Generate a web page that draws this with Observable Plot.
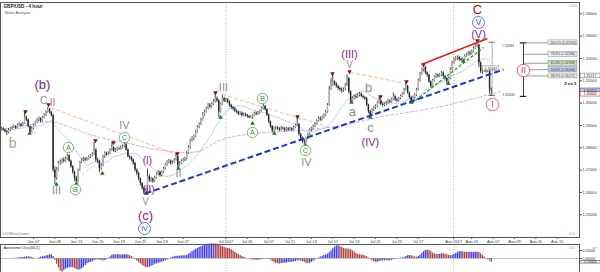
<!DOCTYPE html>
<html><head><meta charset="utf-8">
<script src="https://cdn.jsdelivr.net/npm/d3@7"></script>
<script src="https://cdn.jsdelivr.net/npm/@observablehq/plot@0.6"></script>
<style>
body{margin:0;background:#fff;}
#wrap{position:relative;width:600px;height:272px;overflow:hidden;background:#fff;}
#wrap svg{position:absolute;left:0;}
</style></head><body><div id="wrap"></div>
<script>
// ---- time axis: trading-day index (0 = Jun 07 2017), 6 four-hour bars per day ----
const firstDay = -3;          // Jun 02
const barsPerDay = 6;
const xDomain = [-3.087, 51.08];
const yDomain = [1.23983, 1.34506];
const tickDays  = [0,2,4,6,8,10,12,14,18,20,22,24,26,28,30,32,34,36,39.3,41,43,45,47,49];
const tickNames = ["Jun 07","Jun 09","Jun 13","Jun 15","Jun 19","Jun 21","Jun 23","Jun 27","Jul 2017","Jul 05","Jul 07","Jul 11","Jul 13","Jul 17","Jul 19","Jul 21","Jul 25","Jul 27","Aug 2017","Aug 03","Aug 07","Aug 09","Aug 11","Aug 15"];
const monthLines = [18, 39.3];
const priceTicks = [1.25,1.26,1.27,1.28,1.29,1.30,1.31,1.32,1.33,1.34];
const oscTicks = [0, 0.01];

// ---- GBP/USD 4h candles, in pips: 2885 = 1.2885 ----
const firstOpen = 2880;
const closePips = [
2885,2880,2872,2868,2878,2884, 2890,2895,2888,2900,2905,2898, 2908,2935,2925,2895,2870,2885,
2900,2915,2922,2930,2918,2935, 2945,2960,2972,2960,2945,2700, 2665,2700,2730,2735,2745,2740,
2750,2765,2740,2715,2690,2665, 2650,2700,2735,2745,2750,2745, 2750,2760,2765,2770,2790,2745,
2740,2705,2720,2760,2775,2770, 2775,2790,2800,2785,2790,2795, 2795,2800,2805,2815,2790,2760,
2755,2745,2730,2700,2685,2660, 2640,2620,2600,2610,2670,2655, 2660,2650,2665,2680,2690,2675,
2690,2705,2725,2735,2740,2730, 2735,2745,2760,2720,2730,2740, 2745,2750,2775,2800,2830,2840,
2850,2870,2890,2905,2925,2950, 2960,2975,2990,2985,2995,3005, 3020,3010,2960,2995,3020,3010,
3015,3005,2990,2980,2975,2965, 2960,2950,2955,2945,2950,2945, 2940,2935,2938,2945,2955,2950,
2955,2965,2975,2985,2970,2945, 2915,2895,2875,2885,2890,2885, 2880,2888,2885,2878,2885,2880,
2885,2880,2890,2900,2905,2860, 2840,2830,2825,2840,2860,2880, 2885,2895,2905,2920,2930,2925,
2935,2945,2960,2990,3060,3080, 3095,3085,3075,3065,3060,3055, 3060,3080,3110,3050,3010,3020,
3030,3025,3035,3040,3030,3025, 3020,2990,2960,2945,2970,2980, 2985,3000,3010,2995,2990,2995,
3000,3010,3005,3015,3030,3015, 3010,3020,3030,3040,3060,3075, 3045,3025,3010,3025,3035,3060,
3100,3130,3150,3160,3135,3125, 3095,3075,3100,3115,3125,3120, 3125,3135,3120,3110,3095,3110,
3150,3180,3195,3200,3205,3195, 3190,3195,3210,3215,3225,3220, 3230,3245,3255,3260,3180,3140,
3145,3150,3140,3145,3060,3055];
const highPips = [
2892,2890,2884,2878,2886,2890, 2896,2902,2898,2906,2912,2908, 2914,2960,2942,2928,2898,2892,
2906,2920,2930,2938,2934,2940, 2952,2966,2980,2975,2962,2950, 2715,2712,2738,2745,2752,2755,
2758,2772,2768,2745,2720,2695, 2672,2705,2740,2752,2758,2756, 2756,2765,2770,2778,2825,2795,
2752,2745,2728,2766,2782,2780, 2782,2796,2822,2805,2796,2800, 2802,2808,2812,2832,2820,2795,
2765,2760,2750,2735,2705,2690, 2665,2645,2625,2618,2705,2680, 2668,2665,2672,2688,2698,2695,
2696,2712,2730,2742,2748,2745, 2742,2752,2775,2762,2738,2746, 2752,2758,2782,2808,2838,2850,
2858,2878,2898,2912,2932,2958, 2968,2982,2998,2998,3002,3015, 3045,3028,3015,3000,3035,3025,
3022,3020,3010,2995,2985,2980, 2970,2965,2962,2960,2956,2955, 2950,2945,2944,2950,2960,2960,
2962,2970,2982,2995,2990,2975, 2950,2920,2900,2892,2896,2895, 2890,2895,2894,2890,2892,2890,
2892,2890,2896,2906,2942,2908, 2865,2848,2838,2846,2866,2886, 2892,2902,2912,2926,2938,2938,
2942,2952,2968,2998,3075,3110, 3125,3100,3092,3080,3072,3068, 3068,3088,3126,3115,3055,3028,
3036,3038,3042,3048,3045,3036, 3030,3025,2995,2968,2976,2986, 2992,3006,3028,3015,3002,3000,
3008,3016,3015,3022,3045,3035, 3022,3026,3036,3046,3066,3090, 3080,3050,3030,3032,3042,3066,
3108,3138,3158,3170,3165,3140, 3130,3100,3106,3122,3132,3130, 3132,3142,3140,3125,3115,3116,
3158,3188,3202,3208,3212,3210, 3202,3202,3216,3222,3232,3232, 3238,3252,3262,3268,3262,3185,
3152,3158,3155,3152,3150,3068];
const lowPips = [
2876,2874,2866,2855,2862,2873, 2880,2886,2882,2885,2896,2893, 2895,2905,2918,2890,2862,2866,
2880,2896,2910,2916,2912,2914, 2930,2940,2955,2952,2938,2690, 2636,2655,2695,2722,2728,2732,
2735,2745,2735,2708,2682,2650, 2640,2645,2695,2728,2738,2738, 2740,2745,2752,2760,2765,2735,
2730,2688,2698,2715,2752,2762, 2765,2770,2785,2778,2778,2784, 2788,2790,2795,2800,2785,2755,
2745,2738,2722,2692,2675,2652, 2630,2610,2589,2592,2605,2645, 2645,2640,2645,2660,2675,2668,
2670,2685,2700,2718,2728,2722, 2725,2730,2740,2708,2715,2725, 2735,2738,2745,2770,2795,2825,
2832,2845,2865,2885,2900,2920, 2942,2955,2970,2975,2978,2990, 3000,3002,2935,2955,2990,3002,
3002,2998,2982,2972,2965,2958, 2952,2944,2945,2938,2940,2938, 2932,2930,2930,2928,2940,2944,
2945,2950,2960,2970,2965,2940, 2908,2888,2866,2870,2878,2878, 2872,2875,2878,2870,2872,2874,
2875,2872,2876,2885,2895,2852, 2832,2820,2812,2818,2835,2855, 2872,2880,2890,2900,2915,2918,
2920,2930,2940,2955,2985,3055, 3075,3078,3068,3058,3052,3045, 3048,3055,3075,3040,3000,3005,
3015,3018,3020,3028,3025,3018, 3012,2985,2952,2935,2940,2962, 2972,2980,2995,2988,2982,2984,
2988,2995,2998,3000,3010,3008, 3002,3005,3015,3025,3035,3055, 3040,3018,3002,3005,3020,3030,
3055,3095,3125,3140,3128,3115, 3088,3068,3070,3095,3110,3112, 3115,3120,3112,3102,3085,3090,
3105,3145,3175,3188,3192,3188, 3185,3188,3190,3205,3210,3212, 3215,3225,3240,3248,3160,3132,
3130,3138,3135,3136,3040,3030];

// slow moving average: [day, price]
const slowMA = [[-3.09,1.28819],[-0.28,1.29042],[1.59,1.29177],[3.46,1.28909],[6.27,1.28460],[8.61,1.28236],
[10.94,1.27968],[14.22,1.27789],[16.09,1.27968],[17.96,1.28416],[21.70,1.28684],[24.98,1.28774],[28.72,1.28998],
[31.81,1.29311],[33.12,1.29445],[37.14,1.29759],[40.88,1.30162],[43.69,1.30516]];

// fractal markers [day, price]
const fractalUp = [[-0.75,1.29625],[1.40,1.29938],[5.80,1.28326],[7.48,1.28236],[8.51,1.28326],[13.47,1.27744],
[17.03,1.30476],[24.70,1.29401],[27.97,1.31326],[29.56,1.31416],[32.46,1.30296],[34.89,1.30968],[36.48,1.31730],[41.53,1.32804]];
const fractalDown = [[-0.37,1.28640],[2.15,1.26356],[4.02,1.26400],[6.45,1.26848],[10.57,1.25953],[13.56,1.27072],
[17.49,1.29356],[20.49,1.29087],[22.54,1.28640],[25.44,1.28102],[29.75,1.30028],[31.52,1.29356],[35.36,1.30028],
[38.82,1.30874],[40.22,1.31864]];

// drawn lines [day1, price1, day2, price2]
const trendBlue  = [[10.48,1.25953,43.97,1.31506]];
const trendRed   = [[36.30,1.31730,42.47,1.32894]];
const trendGreen = [[35.36,1.29983,42.10,1.32491]];
const guideOrange = [[1.59,1.29804,13.38,1.27699],[17.68,1.30386,27.78,1.28909],[29.65,1.31371,34.89,1.30874]];
const guidePeach  = [[4.12,1.26641,8.61,1.28346]];

// wave labels
const purpleLabels = [
 {t:0.84,p:1.30834,s:"(b)",z:13},{t:10.66,p:1.27430,s:"(I)",z:10},{t:10.76,p:1.26132,s:"(II)",z:10},
 {t:10.48,p:1.24967,s:"(c)",z:13},{t:29.56,p:1.32177,s:"(III)",z:11},{t:31.52,p:1.28236,s:"(IV)",z:11},
 {t:41.63,p:1.33073,s:"(V)",z:11}];
const grayLabels = [
 {t:0.94,p:1.30117,s:"C",z:10},{t:1.78,p:1.30028,s:"II",z:10},{t:2.15,p:1.26087,s:"III",z:11},
 {t:8.51,p:1.28998,s:"IV",z:11},{t:10.48,p:1.25594,s:"V",z:10},{t:13.56,p:1.26848,s:"II",z:11},
 {t:17.77,p:1.30700,s:"III",z:11},{t:25.54,p:1.27341,s:"IV",z:11},{t:29.56,p:1.31730,s:"V",z:10},
 {t:29.84,p:1.29625,s:"a",z:13},{t:31.34,p:1.30700,s:"b",z:13},{t:31.52,p:1.28909,s:"c",z:13}];
const tanLabels = [{t:-1.96,p:1.28192,s:"b",z:14}];
const redLabels = [{t:41.53,p:1.34193,s:"C",z:13}];
const greenCircles = [
 {t:3.27,p:1.28013,s:"A"},{t:3.93,p:1.26132,s:"B"},{t:8.51,p:1.28460,s:"C"},
 {t:20.49,p:1.28684,s:"A"},{t:21.42,p:1.30207,s:"B"},{t:25.44,p:1.27878,s:"C"}];
const blueCircles = [{t:10.38,p:1.24385,s:"IV",z:7},{t:41.63,p:1.33610,s:"V",z:9}];
const redCircles  = [{t:42.94,p:1.29938,s:"I",z:9},{t:45.84,p:1.31461,s:"II",z:9}];

// Fibonacci retracement tool
const fibDay = 45.84, fibLineEnd = 48.18, fibBoxEnd = 50.89;
const fibHigh = 1.32700, fibLow = 1.30300;
const fibLevels = [
 {p:1.32700,s:"100.0% (1.32700)",bg:"#eeeeee"},{p:1.32186,s:"78.6% (1.32186)",bg:"#eeeeee"},
 {p:1.31783,s:"61.8% (1.31783)",bg:"#c9e8b4"},{p:1.31500,s:"50.0% (1.31500)",bg:"#bcc8ee"},
 {p:1.31217,s:"38.2% (1.31217)",bg:"#eeeeee"}];
const fibNote = [{t:50.23,p:1.30874,s:"2 vs 1"}];
// measuring line of the last drop
const dropDay = 42.91, dropHigh = 1.32728, dropLow = 1.30341;
const dropNotes = [{t:43.80,p:1.32582,s:"1.32683"},{t:43.87,p:1.30386,s:"1.30340"}];
const dropBox = [{t:42.80,p:1.31550,s:"1.31642"}];
// price boxes on the right axis
const axisBoxes = [{p:1.31217,s:"1.31217",bg:"#ffffff",bd:"#777"},{p:1.30550,s:"1.30550",bg:"#b8c2f0",bd:"#4455cc"},{p:1.30400,s:"1.30400",bg:"#ffffff",bd:"#dd3333"}];

// ---- build tables ----
const candles = closePips.map((c, i) => ({
  t: firstDay + i / barsPerDay,
  o: 1 + (i ? closePips[i - 1] : firstOpen) / 1e4,
  c: 1 + c / 1e4,
  h: 1 + highPips[i] / 1e4,
  l: 1 + lowPips[i] / 1e4
}));
const med = candles.map(d => (d.h + d.l) / 2);
const sma = (k, i) => d3.mean(med.slice(Math.max(0, i - k + 1), i + 1));
const ao = candles.map((d, i) => ({t: d.t, v: sma(5, i) - sma(34, i)}));
ao.forEach((d, i) => d.up = i === 0 ? true : d.v >= ao[i - 1].v);
const aoLast = ao[ao.length - 1];

const seg = a => a.map(([t1,p1,t2,p2]) => ({t1,p1,t2,p2}));
const tickName = new Map(tickDays.map((d, i) => [d, tickNames[i]]));
const boxX1 = xDomain[1], boxX2 = 53.05, boxMid = (boxX1 + boxX2) / 2;
const font = "'Liberation Sans', Arial, sans-serif";

const main = Plot.plot({
  width: 600, height: 244,
  marginTop: 2, marginBottom: 7, marginLeft: 0, marginRight: 21,
  style: {fontFamily: font, background: "#fff", overflow: "visible"},
  x: {type: "linear", domain: xDomain},
  y: {type: "linear", domain: yDomain},
  color: {type: "identity"},
  marks: [
    Plot.ruleX(monthLines, {stroke: "#9a9a9a", strokeDasharray: "1,1.6", strokeWidth: 0.8}),
    Plot.line(slowMA, {x: d => d[0], y: d => d[1], curve: "natural", stroke: "#dba9e4", strokeWidth: 1, strokeDasharray: "3,2"}),
    Plot.lineY(candles, Plot.windowY({k: 20, anchor: "end", strict: false, reduce: "mean"},
      {x: "t", y: "c", stroke: "#a6c0f4", strokeWidth: 0.9, strokeDasharray: "1.5,1.2"})),
    Plot.link(seg(guideOrange), {x1: "t1", y1: "p1", x2: "t2", y2: "p2", stroke: "#f7b98e", strokeWidth: 1, strokeDasharray: "4,2"}),
    Plot.link(seg(guidePeach), {x1: "t1", y1: "p1", x2: "t2", y2: "p2", stroke: "#f0d6b4", strokeWidth: 1, strokeDasharray: "3,2"}),
    // candles
    Plot.ruleX(candles, {x: "t", y1: "l", y2: "h", stroke: "#1a1a1a", strokeWidth: 0.8}),
    Plot.ruleX(candles, {x: "t", y1: "o", y2: "c", stroke: d => d.c >= d.o ? "#b5b5b5" : "#262626", strokeWidth: 1.45}),
    // fractals
    Plot.dot(fractalUp, {x: d => d[0], y: d => d[1], symbol: "triangle", rotate: 180, r: 1.7, fill: "#7a1010"}),
    Plot.dot(fractalDown, {x: d => d[0], y: d => d[1], symbol: "triangle", r: 1.7, fill: "#1b7d1b"}),
    // trend lines
    Plot.link(seg(trendBlue), {x1: "t1", y1: "p1", x2: "t2", y2: "p2", stroke: "#1f33dd", strokeWidth: 2, strokeDasharray: "6,3"}),
    Plot.link(seg(trendRed), {x1: "t1", y1: "p1", x2: "t2", y2: "p2", stroke: "#f01818", strokeWidth: 1.6}),
    Plot.link(seg(trendGreen), {x1: "t1", y1: "p1", x2: "t2", y2: "p2", stroke: "#1e9a1e", strokeWidth: 1.3, strokeDasharray: "3,2"}),
    // measuring line of the last drop
    Plot.ruleX([dropDay], {y1: dropLow, y2: dropHigh, stroke: "#9a9a9a", strokeWidth: 0.8}),
    Plot.ruleY([dropHigh, dropLow], {x1: dropDay - 0.3, x2: dropDay + 0.3, stroke: "#555", strokeWidth: 0.8}),
    Plot.text(dropNotes, {x: "t", y: "p", text: "s", fontSize: 3.4, fill: "#444", textAnchor: "start"}),
    Plot.rect(dropBox, {x1: d => d.t - 0.75, x2: d => d.t + 0.75, y1: d => d.p - 0.0011, y2: d => d.p + 0.0011, fill: "#f4f4f4", stroke: "#888", strokeWidth: 0.5}),
    Plot.text(dropBox, {x: "t", y: "p", text: "s", fontSize: 3.4, fill: "#333"}),
    // Fibonacci
    Plot.ruleX([fibDay], {y1: fibLow, y2: fibHigh, stroke: "#222", strokeWidth: 0.9}),
    Plot.ruleY([fibHigh, fibLow], {x1: fibDay - 0.3, x2: fibDay + 0.3, stroke: "#222", strokeWidth: 1.2}),
    Plot.ruleY(fibLevels, {y: "p", x1: fibDay, x2: fibLineEnd, stroke: "#777", strokeWidth: 0.7}),
    Plot.rect(fibLevels, {x1: fibLineEnd, x2: fibBoxEnd, y1: d => d.p - 0.0011, y2: d => d.p + 0.0011, fill: "bg", stroke: "#888", strokeWidth: 0.5}),
    Plot.text(fibLevels, {x: (fibLineEnd + fibBoxEnd) / 2, y: "p", text: "s", fontSize: 3.3, fill: "#333"}),
    Plot.text(fibNote, {x: "t", y: "p", text: "s", fontSize: 4.4, fontWeight: "bold", fill: "#111"}),
    // circled labels
    Plot.dot(greenCircles, {x: "t", y: "p", r: 5.2, fill: "#fff", stroke: "#49b049", strokeWidth: 0.8}),
    Plot.text(greenCircles, {x: "t", y: "p", text: "s", fontSize: 7.5, fill: "#2f9a2f"}),
    Plot.dot(blueCircles, {x: "t", y: "p", r: 6, fill: "#fff", stroke: "#4a66ee", strokeWidth: 0.9}),
    Plot.text(blueCircles, {x: "t", y: "p", text: "s", fontSize: "z", fill: "#3550e0"}),
    Plot.dot(redCircles, {x: "t", y: "p", r: 6.3, fill: "#fff", stroke: "#f25050", strokeWidth: 0.9}),
    Plot.text(redCircles, {x: "t", y: "p", text: "s", fontSize: "z", fill: "#ee3030"}),
    // wave labels
    Plot.text(purpleLabels, {x: "t", y: "p", text: "s", fontSize: "z", fill: "#8b2090"}),
    Plot.text(grayLabels, {x: "t", y: "p", text: "s", fontSize: "z", fill: "#8c8c8c"}),
    Plot.text(tanLabels, {x: "t", y: "p", text: "s", fontSize: "z", fill: "#aaa48a"}),
    Plot.text(redLabels, {x: "t", y: "p", text: "s", fontSize: "z", fill: "#b01515"}),
    // axes
    Plot.axisY({anchor: "right", ticks: priceTicks, tickFormat: d3.format(".5f"), tickSize: 2, tickPadding: 1, fontSize: 3.9, stroke: "#555", fill: "#333"}),
    Plot.axisX({anchor: "bottom", ticks: tickDays, tickFormat: d => tickName.get(d), tickSize: 2, tickPadding: 0.5, fontSize: 3.9, stroke: "#555", fill: "#333"}),
    // price boxes on axis
    Plot.rect(axisBoxes, {x1: boxX1 + 0.1, x2: boxX2, y1: d => d.p - 0.00105, y2: d => d.p + 0.00105, fill: "bg", stroke: "bd", strokeWidth: 0.6}),
    Plot.text(axisBoxes, {x: boxMid, y: "p", text: "s", fontSize: 3.6, fill: "#222"}),
    Plot.frame({stroke: "#555", strokeWidth: 1}),
    // titles and ornaments
    Plot.text(["GBP/USD - 4 hour"], {text: d => d, frameAnchor: "top-left", dx: 3, dy: 2, fontSize: 4.6, fontWeight: "bold", fill: "#222"}),
    Plot.text(["Wave Analysis"], {text: d => d, frameAnchor: "top-left", dx: 4, dy: 8.5, fontSize: 4, fill: "#555"}),
    Plot.text(["⊙⊙⊙"], {text: d => d, frameAnchor: "top-right", dx: -2, dy: 2, fontSize: 4, fill: "#999"}),
    Plot.text(["⊙⊙"], {text: d => d, frameAnchor: "bottom-right", dx: -5, dy: -3, fontSize: 4, fill: "#999"}),
    Plot.text(["⊙⊙ MetaQuotes"], {text: d => d, frameAnchor: "bottom-left", dx: 2, dy: -3, fontSize: 3.6, fill: "#777"})
  ]
});

const osc = Plot.plot({
  width: 600, height: 29,
  marginTop: 1, marginBottom: 0, marginLeft: 0, marginRight: 21,
  style: {fontFamily: font, background: "#fff", overflow: "visible"},
  x: {type: "linear", domain: xDomain, axis: null},
  y: {type: "linear", domain: [-0.0175, 0.0175]},
  color: {type: "identity"},
  marks: [
    Plot.ruleX(monthLines, {stroke: "#9a9a9a", strokeDasharray: "1,1.6", strokeWidth: 0.8}),
    Plot.ruleX(ao, {x: "t", y1: 0, y2: "v", stroke: d => d.up ? "#3f3ff2" : "#b0413e", strokeWidth: 1.3}),
    Plot.ruleY([0], {stroke: "#999", strokeWidth: 0.6}),
    Plot.axisY({anchor: "right", ticks: oscTicks, tickFormat: d3.format(".5f"), tickSize: 2, tickPadding: 1, fontSize: 3.5, stroke: "#555", fill: "#333"}),
    Plot.rect([aoLast], {x1: boxX1 + 0.1, x2: boxX2, y1: d => d.v - 0.0017, y2: d => d.v + 0.0017, fill: "#fff", stroke: "#555", strokeWidth: 0.6}),
    Plot.text([aoLast], {x: boxMid, y: "v", text: d => d.v.toFixed(5), fontSize: 3.5, fill: "#222"}),
    Plot.frame({stroke: "#555", strokeWidth: 1}),
    Plot.text(["Awesome Osc(34,5)"], {text: d => d, frameAnchor: "top-left", dx: 3, dy: 1.5, fontSize: 4, fill: "#222"}),
    Plot.text(["⊙⊙"], {text: d => d, frameAnchor: "top-right", dx: -5, dy: 1.5, fontSize: 4, fill: "#999"})
  ]
});

main.style.top = "0px";
osc.style.top = "243px";
document.getElementById("wrap").append(main, osc);
</script></body></html>
